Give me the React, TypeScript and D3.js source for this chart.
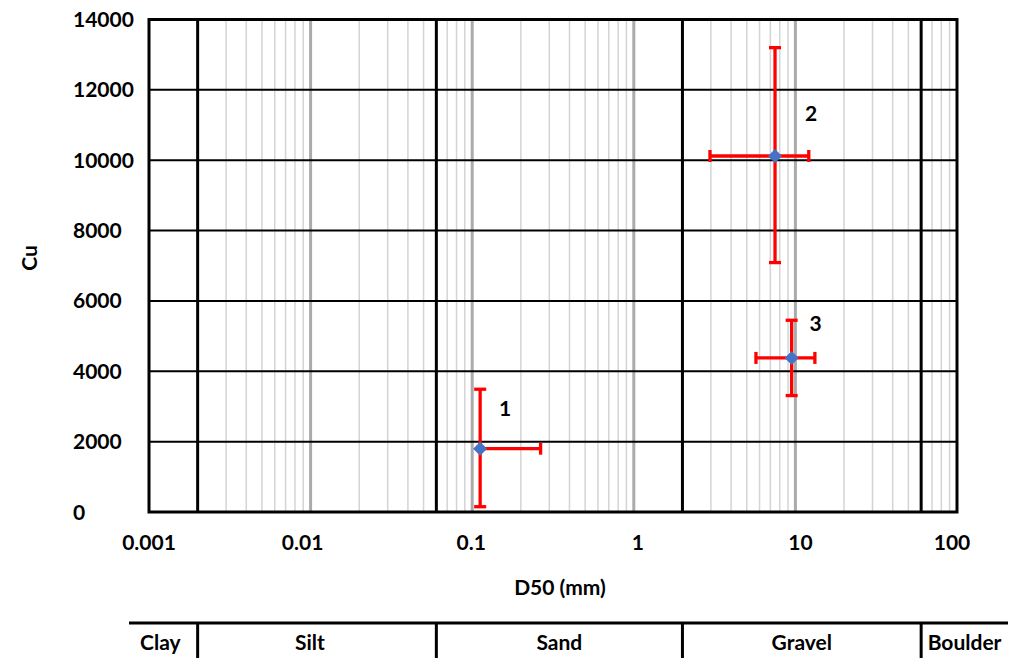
import React from "react";
import * as d3 from "d3";

// Samples: median grain size D50 (mm) and uniformity coefficient Cu, with ranges
const sampleIds = ["1", "2", "3"];
const d50 = [0.112, 7.48, 9.48];
const d50Low = [0.112, 2.96, 5.7];
const d50High = [0.265, 12.1, 13.2];
const cu = [1800, 10120, 4380];
const cuLow = [150, 7090, 3310];
const cuHigh = [3490, 13200, 5450];

// Axis ticks
const xTicks = [0.001, 0.01, 0.1, 1, 10, 100];
const xTickLabels = ["0.001", "0.01", "0.1", "1", "10", "100"];
const yTicks = [0, 2000, 4000, 6000, 8000, 10000, 12000, 14000];

// Grain-size classes and their boundaries (mm)
const classBounds = [0.002, 0.06, 2, 60];
const classNames = ["Clay", "Silt", "Sand", "Gravel", "Boulder"];

// Layout
const W = 1016;
const H = 658;
const plot = { left: 149, right: 957, top: 19.5, bottom: 512 };
const FONT = "Lato, 'Open Sans', sans-serif";
const FS = 21;
const labelOffsets = [
  [25, -40],
  [36, -43],
  [24, -34],
];
const xTickNudge = [0, -8, -1, 4, 5, -5];

export default function App() {
  const x = d3.scaleLog().domain([0.001, 100]).range([plot.left, plot.right]);
  const y = d3.scaleLinear().domain([0, 14000]).range([plot.bottom, plot.top]);

  const decades = [0.001, 0.01, 0.1, 1, 10];
  const minor: number[] = [];
  decades.forEach((d) => {
    for (let k = 2; k <= 9; k++) minor.push(k * d);
  });
  const major = [0.01, 0.1, 1, 10];

  const bandTop = 623;
  const bandLeft = 129;
  const bandRight = 1008;
  const edges = [bandLeft, ...classBounds.map((b) => x(b)), bandRight];

  const capHalf = 6;

  return (
    <svg
      width={W}
      height={H}
      style={{ position: "absolute", left: 0, top: 0, background: "#fff" }}
      fontFamily={FONT}
      fontWeight="bold"
    >
      {/* minor log grid */}
      {minor.map((v, i) => (
        <line
          key={"mn" + i}
          x1={x(v)}
          x2={x(v)}
          y1={plot.top}
          y2={plot.bottom}
          stroke="#d4d4d4"
          strokeWidth={1.5}
        />
      ))}
      {/* decade grid */}
      {major.map((v, i) => (
        <line
          key={"mj" + i}
          x1={x(v)}
          x2={x(v)}
          y1={plot.top}
          y2={plot.bottom}
          stroke="#ababab"
          strokeWidth={3}
        />
      ))}
      {/* horizontal grid */}
      {yTicks.slice(1, -1).map((v) => (
        <line
          key={"hy" + v}
          x1={plot.left}
          x2={plot.right}
          y1={y(v)}
          y2={y(v)}
          stroke="#000"
          strokeWidth={2}
        />
      ))}
      {/* class boundaries */}
      {classBounds.map((b) => (
        <line
          key={"cb" + b}
          x1={x(b)}
          x2={x(b)}
          y1={plot.top}
          y2={plot.bottom}
          stroke="#000"
          strokeWidth={3}
        />
      ))}
      {/* frame */}
      <rect
        x={plot.left}
        y={plot.top}
        width={plot.right - plot.left}
        height={plot.bottom - plot.top}
        fill="none"
        stroke="#000"
        strokeWidth={3}
      />

      {/* y tick labels */}
      {yTicks.map((v) => (
        <text
          key={"yt" + v}
          x={73}
          y={y(v)}
          dy="0.36em"
          fontSize={FS}
          textAnchor="start"
          fill="#000"
        >
          {v}
        </text>
      ))}
      <text
        transform={`translate(29,258) rotate(-90)`}
        fontSize={FS}
        textAnchor="middle"
        dy="0.36em"
      >
        Cu
      </text>

      {/* x tick labels */}
      {xTicks.map((v, i) => (
        <text
          key={"xt" + v}
          x={x(v) + xTickNudge[i]}
          y={542}
          dy="0.36em"
          fontSize={FS}
          textAnchor="middle"
        >
          {xTickLabels[i]}
        </text>
      ))}
      <text x={560} y={587} dy="0.36em" fontSize={FS} textAnchor="middle">
        D50 (mm)
      </text>

      {/* error bars */}
      {sampleIds.map((id, i) => {
        const cx = x(d50[i]);
        const cy = y(cu[i]);
        const xl = x(d50Low[i]);
        const xh = x(d50High[i]);
        const yl = y(cuLow[i]);
        const yh = y(cuHigh[i]);
        return (
          <g key={"eb" + id} stroke="#ff0000" strokeWidth={3.3}>
            <line x1={cx} x2={cx} y1={yl} y2={yh} />
            <line x1={cx - capHalf} x2={cx + capHalf} y1={yl} y2={yl} />
            <line x1={cx - capHalf} x2={cx + capHalf} y1={yh} y2={yh} />
            <line x1={xl} x2={xh} y1={cy} y2={cy} />
            {d50Low[i] < d50[i] && (
              <line x1={xl} x2={xl} y1={cy - capHalf} y2={cy + capHalf} />
            )}
            <line x1={xh} x2={xh} y1={cy - capHalf} y2={cy + capHalf} />
          </g>
        );
      })}

      {/* markers */}
      {sampleIds.map((id, i) => {
        const cx = x(d50[i]);
        const cy = y(cu[i]);
        const r = 7;
        return (
          <path
            key={"mk" + id}
            d={`M${cx},${cy - r}L${cx + r},${cy}L${cx},${cy + r}L${cx - r},${cy}Z`}
            fill="#4472c4"
          />
        );
      })}

      {/* sample labels */}
      {sampleIds.map((id, i) => (
        <text
          key={"lb" + id}
          x={x(d50[i]) + labelOffsets[i][0]}
          y={y(cu[i]) + labelOffsets[i][1]}
          dy="0.36em"
          fontSize={FS}
          textAnchor="middle"
        >
          {id}
        </text>
      ))}

      {/* classification band */}
      <line
        x1={bandLeft}
        x2={bandRight}
        y1={bandTop}
        y2={bandTop}
        stroke="#000"
        strokeWidth={3}
      />
      {classBounds.map((b) => (
        <line
          key={"bd" + b}
          x1={x(b)}
          x2={x(b)}
          y1={bandTop}
          y2={H}
          stroke="#000"
          strokeWidth={3}
        />
      ))}
      {classNames.map((n, i) => (
        <text
          key={"cn" + n}
          x={(edges[i] + edges[i + 1]) / 2 + (i === 0 ? -3 : i === 1 ? -7 : 0)}
          y={642}
          dy="0.36em"
          fontSize={FS}
          textAnchor="middle"
        >
          {n}
        </text>
      ))}
    </svg>
  );
}
